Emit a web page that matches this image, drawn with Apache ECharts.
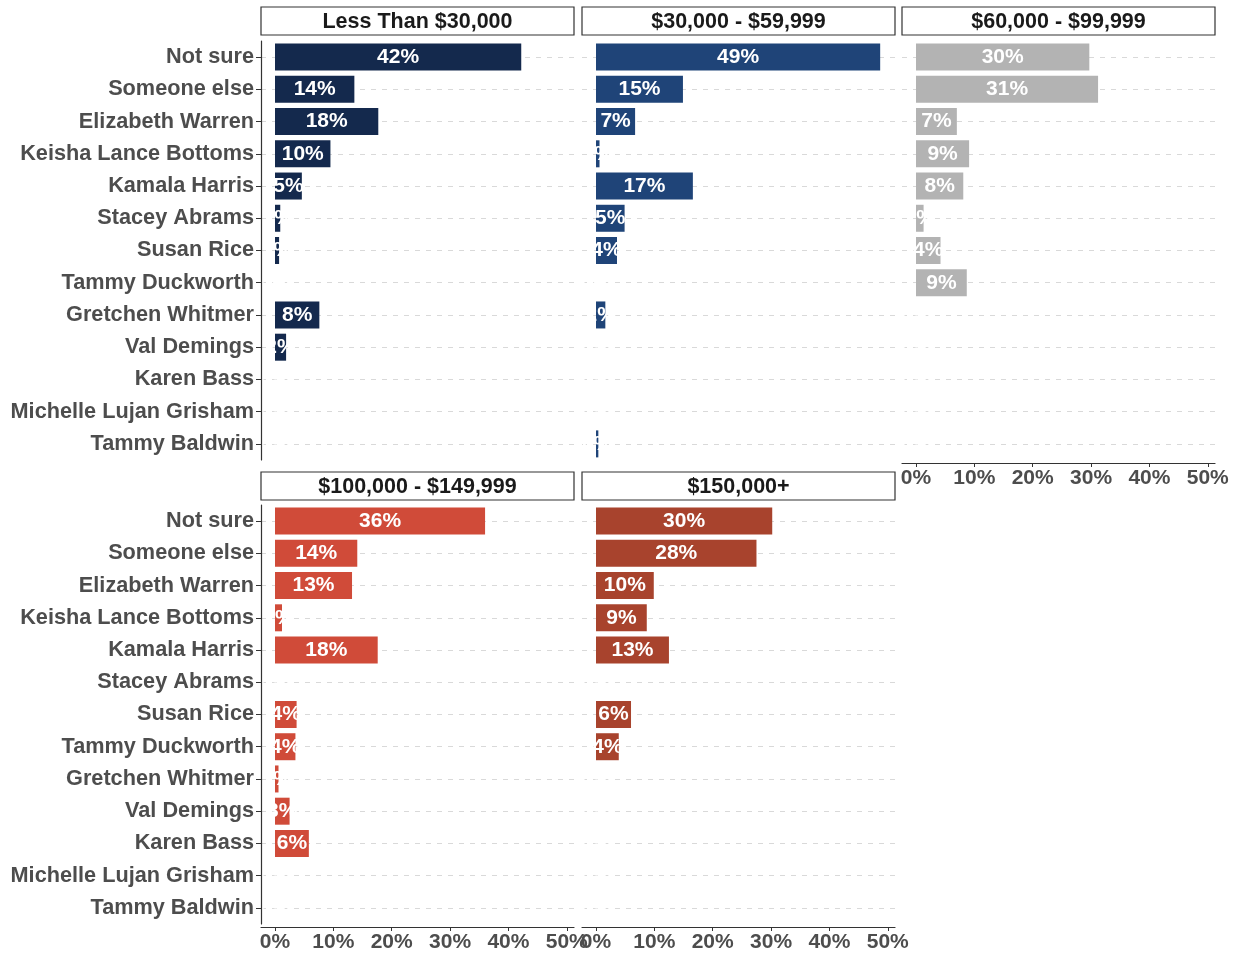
<!DOCTYPE html>
<html>
<head>
<meta charset="utf-8">
<script src="https://cdn.jsdelivr.net/npm/echarts@6/dist/echarts.min.js"></script>
<style>
  html, body { margin: 0; padding: 0; background: #fff; }
  #main { width: 1235px; height: 953px; }
</style>
</head>
<body>
<div id="main"></div>
<script>
var categories = ['Not sure', 'Someone else', 'Elizabeth Warren', 'Keisha Lance Bottoms', 'Kamala Harris',
  'Stacey Abrams', 'Susan Rice', 'Tammy Duckworth', 'Gretchen Whitmer', 'Val Demings', 'Karen Bass',
  'Michelle Lujan Grisham', 'Tammy Baldwin'];

var panelTitles = ['Less Than $30,000', '$30,000 - $59,999', '$60,000 - $99,999', '$100,000 - $149,999', '$150,000+'];

// percent of respondents
var under30k     = [42.2, 13.6, 17.7, 9.5, 4.6, 0.9, 0.7, 0, 7.6, 1.9, 0, 0, 0];
var from30to60k  = [48.7, 14.9, 6.7, 0.6, 16.6, 4.9, 3.6, 0, 1.6, 0, 0, 0, 0.4];
var from60to100k = [29.7, 31.2, 7.0, 9.1, 8.1, 1.3, 4.2, 8.7, 0, 0, 0, 0, 0];
var from100to150k = [36.0, 14.1, 13.2, 1.2, 17.6, 0, 3.7, 3.5, 0.6, 2.5, 5.8, 0, 0];
var over150k     = [30.2, 27.5, 9.9, 8.7, 12.5, 0, 6.0, 3.9, 0, 0, 0, 0, 0];

var barColors = ['#14294d', '#1f4478', '#b3b3b3', '#d04b39', '#a8432d'];
var tickValues = [0, 10, 20, 30, 40, 50];

var panelData = [under30k, from30to60k, from60to100k, from100to150k, over150k];

// facet layout: panel box and which axes get drawn
var panels = [
  { left: 261, top: 41, stripTop: 7,   yAxis: true,  xAxis: false },
  { left: 582, top: 41, stripTop: 7,   yAxis: false, xAxis: false },
  { left: 902, top: 41, stripTop: 7,   yAxis: false, xAxis: true },
  { left: 261, top: 505, stripTop: 472, yAxis: true,  xAxis: true },
  { left: 582, top: 505, stripTop: 472, yAxis: false, xAxis: true }
];
var panelW = 313, panelH = 419;
var font = 'Liberation Sans, Arial, sans-serif';

var grids = [], xAxes = [], yAxes = [], series = [], graphics = [];

panels.forEach(function (p, i) {
  grids.push({ left: p.left, top: p.top, width: panelW, height: panelH, containLabel: false });

  xAxes.push({
    gridIndex: i,
    type: 'value',
    min: -2.4,
    max: 51.24,
    show: p.xAxis,
    offset: 3,
    z: 10,
    splitLine: { show: false },
    axisLine: { show: true, onZero: false, lineStyle: { color: '#333', width: 1.2 } },
    axisTick: { show: true, length: 4, customValues: tickValues, lineStyle: { color: '#333' } },
    axisLabel: {
      customValues: tickValues,
      formatter: function (v) { return v + '%'; },
      color: '#4d4d4d',
      fontSize: 21,
      fontWeight: 'bold',
      fontFamily: font,
      margin: 5
    }
  });

  yAxes.push({
    gridIndex: i,
    type: 'category',
    data: categories,
    inverse: true,
    z: 10,
    axisLine: { show: p.yAxis, onZero: false, lineStyle: { color: '#333', width: 1.2 } },
    axisTick: { show: p.yAxis, alignWithLabel: true, length: 5, lineStyle: { color: '#333' } },
    axisLabel: {
      show: p.yAxis,
      color: '#4d4d4d',
      fontSize: 21.7,
      fontWeight: 'bold',
      fontFamily: font,
      margin: 7
    },
    splitLine: { show: false }
  });

  // dashed guide lines at every category
  series.push({
    type: 'line',
    xAxisIndex: i,
    yAxisIndex: i,
    data: [],
    z: 1,
    silent: true,
    markLine: {
      silent: true,
      symbol: ['none', 'none'],
      label: { show: false },
      lineStyle: { color: '#d9d9d9', type: [5, 6], width: 1 },
      data: categories.map(function (c) { return { yAxis: c }; })
    }
  });

  series.push({
    type: 'bar',
    xAxisIndex: i,
    yAxisIndex: i,
    data: panelData[i],
    barWidth: 27,
    z: 5,
    itemStyle: { color: barColors[i] },
    label: {
      show: true,
      position: 'inside',
      color: '#fff',
      fontSize: 21,
      fontWeight: 'bold',
      fontFamily: font,
      formatter: function (d) { return Math.round(d.value) + '%'; }
    }
  });

  // strip header
  graphics.push({
    type: 'rect',
    shape: { x: p.left, y: p.stripTop, width: panelW, height: 28 },
    style: { fill: '#fff', stroke: '#333', lineWidth: 1.2 }
  });
  graphics.push({
    type: 'text',
    x: p.left + panelW / 2,
    y: p.stripTop + 15,
    style: {
      text: panelTitles[i],
      fill: '#1a1a1a',
      font: 'bold 21.5px ' + font,
      textAlign: 'center',
      textVerticalAlign: 'middle'
    }
  });
});

var myChart = echarts.init(document.getElementById('main'));
myChart.setOption({
  animation: false,
  backgroundColor: '#fff',
  grid: grids,
  xAxis: xAxes,
  yAxis: yAxes,
  series: series,
  graphic: graphics
});
</script>
</body>
</html>
